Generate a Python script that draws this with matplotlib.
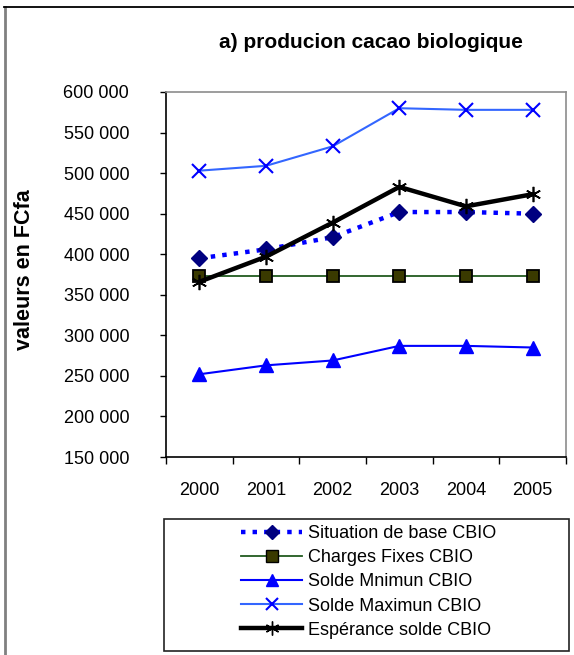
import matplotlib
matplotlib.use("Agg")
import matplotlib.pyplot as plt
from matplotlib.lines import Line2D
from matplotlib.patches import Rectangle
from matplotlib.ticker import FuncFormatter, MultipleLocator

plt.rcParams['font.family'] = ['Liberation Sans', 'DejaVu Sans']

years = ["2000", "2001", "2002", "2003", "2004", "2005"]
situation_base = [395000, 406000, 421000, 452000, 452000, 450000]
charges_fixes = [373000, 373000, 373000, 373000, 373000, 373000]
solde_min = [252000, 263000, 269000, 287000, 287000, 285000]
solde_max = [503000, 509000, 533000, 580000, 578000, 578000]
esperance = [366000, 397000, 439000, 483000, 459000, 474000]

labels = ["Situation de base CBIO", "Charges Fixes CBIO", "Solde Mnimun CBIO",
          "Solde Maximun CBIO", "Espérance solde CBIO"]

W, H = 574, 655
fig = plt.figure(figsize=(W / 100, H / 100), dpi=100)

def fx(px):
    return px / W

def fy(py):
    return 1 - py / H

ax = fig.add_axes([fx(166), fy(457), fx(566) - fx(166), fy(92) - fy(457)])
x = list(range(len(years)))

ax.plot(x, situation_base, color="#0000FF", lw=3.2, ls=(0, (1.0, 1.6)),
        marker="D", ms=8, mfc="#000080", mec="#000080", zorder=4)
ax.plot(x, charges_fixes, color="#215A1F", lw=1.3,
        marker="s", ms=9, mfc="#3A3A00", mec="#000000", mew=1.3, zorder=3)
ax.plot(x, solde_min, color="#0000FF", lw=1.5,
        marker="^", ms=10, mfc="#0000FF", mec="#0000FF", zorder=3)
ax.plot(x, solde_max, color="#3366FF", lw=1.5,
        marker="x", ms=10, mec="#0000FF", mew=1.5, zorder=3)
ax.plot(x, esperance, color="#000000", lw=3.2,
        marker=(6, 2, 0), ms=11, mec="#000000", mew=1.2, zorder=5)

ax.set_xlim(-0.5, len(years) - 0.5)
ax.set_ylim(150000, 600000)
ax.yaxis.set_major_locator(MultipleLocator(50000))
ax.yaxis.set_major_formatter(FuncFormatter(lambda v, p: f"{int(v):,}".replace(",", " ")))
ax.set_xticks([i - 0.5 for i in range(len(years) + 1)])
ax.set_xticklabels([])
ax.set_xticks(x, minor=True)
ax.set_xticklabels(years, minor=True)
ax.tick_params(axis="x", which="minor", length=0, pad=18, labelsize=13)
ax.tick_params(axis="x", which="major", length=5, width=1, direction="out")
ax.tick_params(axis="y", length=4, width=1, direction="out", pad=22.5, labelsize=13)

for s in ("top", "right"):
    ax.spines[s].set_color("#8C8C8C")
    ax.spines[s].set_linewidth(1.2)
for s in ("left", "bottom"):
    ax.spines[s].set_color("#000000")
    ax.spines[s].set_linewidth(1.2)

fig.text(fx(371), fy(42), "a) producion cacao biologique", ha="center", va="center",
         fontsize=15, fontweight="bold")
fig.text(fx(25), fy(270), "valeurs en FCfa", ha="center", va="center",
         rotation=90, fontsize=15.5, fontweight="bold")

# outer frame of the figure
fig.add_artist(Line2D([fx(5), fx(5)], [fy(7), 0], color="#808080", lw=2.0))
fig.add_artist(Line2D([fx(4), 1], [fy(7), fy(7)], color="#000000", lw=1.3))

# legend frame
fig.add_artist(Rectangle((fx(164), fy(651)), fx(569) - fx(164), fy(519) - fy(651),
                         fill=False, ec="#222222", lw=1.2))
handles = [
    Line2D([], [], color="#0000FF", lw=3.2, ls=(0, (1.0, 1.6)), marker="D", ms=7,
           mfc="#000080", mec="#000080"),
    Line2D([], [], color="#215A1F", lw=1.3, marker="s", ms=8, mfc="#3A3A00", mec="#000000"),
    Line2D([], [], color="#0000FF", lw=1.5, marker="^", ms=9, mfc="#0000FF", mec="#0000FF"),
    Line2D([], [], color="#3366FF", lw=1.5, marker="x", ms=9, mec="#0000FF", mew=1.5),
    Line2D([], [], color="#000000", lw=3.2, marker=(6, 2, 0), ms=10, mec="#000000"),
]
fig.legend(handles, labels, loc="center",
           bbox_to_anchor=(fx(166), fy(648), fx(569) - fx(164), fy(519) - fy(651)),
           frameon=False, fontsize=13, handlelength=3.4, handletextpad=0.3,
           labelspacing=0.39, borderpad=0.2)

fig.savefig("out.png", dpi=100)
